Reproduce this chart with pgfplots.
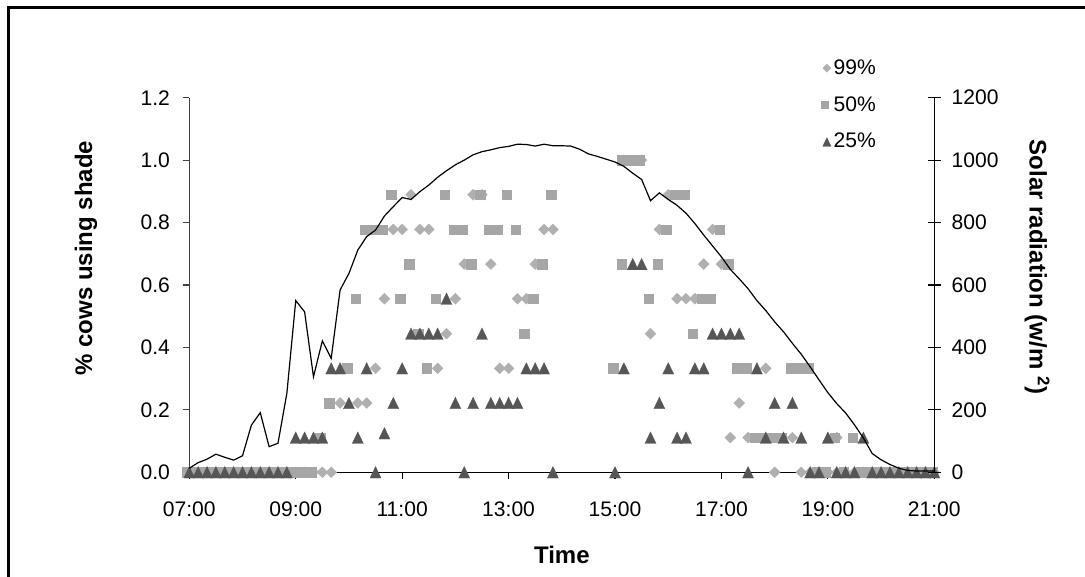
\documentclass[border=0pt]{standalone}
\usepackage{pgfplots}
\pgfplotsset{compat=1.18}
\usepackage{pgfplotstable}
\usepackage{fontspec}
\setmainfont{Liberation Sans}
\definecolor{diam}{HTML}{B0B0B0}
\definecolor{sqr}{HTML}{A6A6A6}
\definecolor{tri}{HTML}{565656}

\tikzset{
  tickfont/.style={font=\fontsize{15.8}{19}\selectfont},
  titlefont/.style={font=\fontsize{18}{21}\selectfont\bfseries},
}

\pgfplotstableread{
x y
0 0
1 0
2 0
3 0
4 0
5 0
6 0
7 0
8 0
9 0
10 0
11 0
12 0
13 0
14 0
15 0
16 0
66 0
69 0
70 0
71 0
72 0
73 0
74 0
75 0
76 0
77 0
78 0
79 0
80 0
81 0
82 0
83 0
84 0
61 0.111
63 0.111
68 0.111
73 0.111
17 0.222
19 0.222
20 0.222
62 0.222
21 0.333
28 0.333
35 0.333
36 0.333
65 0.333
29 0.444
52 0.444
22 0.556
30 0.556
37 0.556
38 0.556
55 0.556
56 0.556
57 0.556
31 0.667
34 0.667
39 0.667
58 0.667
60 0.667
23 0.778
24 0.778
26 0.778
27 0.778
40 0.778
41 0.778
53 0.778
59 0.778
25 0.889
32 0.889
33 0.889
54 0.889
49 1.000
51 1.000
}\diamonds

\pgfplotstableread{
x y
0 0
1 0
2 0
3 0
4 0
5 0
6 0
7 0
8 0
9 0
10 0
11 0
12 0
13 0
14 0
71 0
72 0
74 0
76 0
77 0
78 0
79 0
80 0
81 0
82 0
83 0
84 0
15 0.111
64 0.111
65 0.111
66 0.111
67 0.111
73 0.111
75 0.111
16 0.222
18 0.333
27 0.333
48 0.333
62 0.333
63 0.333
68 0.333
69 0.333
70 0.333
26 0.444
38 0.444
57 0.444
19 0.556
24 0.556
28 0.556
39 0.556
52 0.556
58 0.556
59 0.556
25 0.667
32 0.667
40 0.667
49 0.667
53 0.667
61 0.667
20 0.778
21 0.778
22 0.778
30 0.778
31 0.778
34 0.778
35 0.778
37 0.778
54 0.778
60 0.778
23 0.889
29 0.889
33 0.889
36 0.889
41 0.889
55 0.889
56 0.889
49 1.000
50 1.000
51 1.000
}\squares

\pgfplotstableread{
x y
0 0
1 0
2 0
3 0
4 0
5 0
6 0
7 0
8 0
9 0
10 0
11 0
21 0
31 0
41 0
48 0
63 0
70 0
71 0
73 0
74 0
75 0
77 0
78 0
79 0
80 0
81 0
82 0
83 0
84 0
12 0.111
13 0.111
14 0.111
15 0.111
19 0.111
52 0.111
55 0.111
56 0.111
65 0.111
67 0.111
69 0.111
72 0.111
76 0.111
22 0.125
18 0.222
23 0.222
30 0.222
32 0.222
34 0.222
35 0.222
36 0.222
37 0.222
53 0.222
66 0.222
68 0.222
16 0.333
17 0.333
20 0.333
24 0.333
38 0.333
39 0.333
40 0.333
49 0.333
54 0.333
57 0.333
58 0.333
64 0.333
25 0.444
26 0.444
27 0.444
28 0.444
33 0.444
59 0.444
60 0.444
61 0.444
62 0.444
29 0.556
50 0.667
51 0.667
}\triangles

\pgfplotstableread{
x w
0 13
1 31
2 42
3 58
4 48
5 39
6 53
7 151
8 191
9 82
10 93
11 253
12 550
13 514
14 306
15 421
16 365
17 584
18 637
19 712
20 755
21 776
22 821
23 851
24 880
25 874
26 899
27 920
28 945
29 966
30 985
31 1000
32 1017
33 1027
34 1033
35 1040
36 1044
37 1051
38 1050
39 1045
40 1051
41 1046
42 1046
43 1045
44 1035
45 1020
46 1012
47 1003
48 994
49 980
50 958
51 938
52 870
53 895
54 874
55 855
56 830
57 797
58 760
59 725
60 690
61 650
62 620
63 588
64 550
65 518
66 482
67 450
68 413
69 378
70 338
71 296
72 255
73 220
74 190
75 152
76 110
77 60
78 40
79 25
80 13
81 6
82 4
83 4
84 4
}\solar

\begin{document}
\begin{tikzpicture}
\useasboundingbox (0pt,0pt) rectangle (813.75pt,432.75pt);
\fill[white] (0pt,0pt) rectangle (813.75pt,432.75pt);
\draw[line width=2.2pt] (6.5pt,-5pt) -- (6.5pt,427pt) -- (830pt,427pt);

\begin{axis}[
  at={(141.98pt,78.53pt)}, anchor=south west,
  scale only axis, width=558.75pt, height=280.95pt,
  xmin=0, xmax=84, ymin=0, ymax=1.2,
  axis x line*=bottom, axis y line*=left,
  x axis line style={-, black, line width=0.9pt},
  y axis line style={-, black!75, line width=0.9pt},
  xtick={0,12,24,36,48,60,72,84},
  xticklabels={07:00,09:00,11:00,13:00,15:00,17:00,19:00,21:00},
  ytick={0,0.2,0.4,0.6,0.8,1.0,1.2},
  tick align=outside, major tick length=5pt,
  tick style={line width=0.9pt},
  xtick style={black}, ytick style={black!75},
  /pgf/number format/assume math mode=true,
  yticklabel style={tickfont, xshift=-6pt, /pgf/number format/.cd, fixed, fixed zerofill, precision=1},
  xticklabel style={tickfont, yshift=-13.5pt},
  xlabel={Time},
  ylabel={\% cows using shade},
  every axis x label/.style={at={(axis description cs:0.5,-0.221)}, anchor=center, titlefont},
  every axis y label/.style={at={(axis description cs:-0.1387,0.572)}, anchor=center, rotate=90, titlefont},
  legend style={draw=none, fill=none, at={(axis description cs:0.848,1.109)}, anchor=north west,
    font=\fontsize{15.8}{19}\selectfont, row sep=11pt, inner sep=0pt},
  legend image post style={/tikz/every mark/.append style={scale=0.75}},
  legend cell align=left,
  clip=false,
]
\addplot[only marks, mark=square*, mark size=2.9pt, color=diam,
  mark options={rotate=45, fill=diam, draw=diam, line width=0.2pt}] table[x=x,y=y] {\diamonds};
\addlegendentry{99\%}
\addplot[only marks, mark=square*, mark size=3.55pt, color=sqr,
  mark options={fill=sqr, draw=sqr, line width=0.2pt, xshift=-1.5pt}] table[x=x,y=y] {\squares};
\addlegendentry{50\%}
\addplot[only marks, mark=triangle*, mark size=4.8pt, color=tri,
  mark options={fill=tri, draw=tri, line width=0.2pt, yscale=1.2, yshift=-1.2pt}] table[x=x,y=y] {\triangles};
\addlegendentry{25\%}
\end{axis}

\begin{axis}[
  at={(141.98pt,78.53pt)}, anchor=south west,
  scale only axis, width=558.75pt, height=280.95pt,
  xmin=0, xmax=84, ymin=0, ymax=1200,
  axis x line=none, axis y line*=right,
  y axis line style={-, black, line width=0.9pt},
  xtick=\empty,
  ytick={0,200,400,600,800,1000,1200},
  tick align=center, major tick length=10pt,
  tick style={line width=0.9pt, black},
  /pgf/number format/assume math mode=true,
  yticklabel style={tickfont, xshift=4.5pt, /pgf/number format/.cd, 1000 sep={}},
  ylabel={Solar radiation (w/m\hspace{5pt}\textsuperscript{2})},
  every axis y label/.style={at={(axis description cs:1.138,0.548)}, anchor=center, rotate=-90, titlefont},
  clip=false,
]
\addplot[black, line width=0.9pt, mark=none] table[x=x,y=w] {\solar};
\end{axis}
\end{tikzpicture}
\end{document}
